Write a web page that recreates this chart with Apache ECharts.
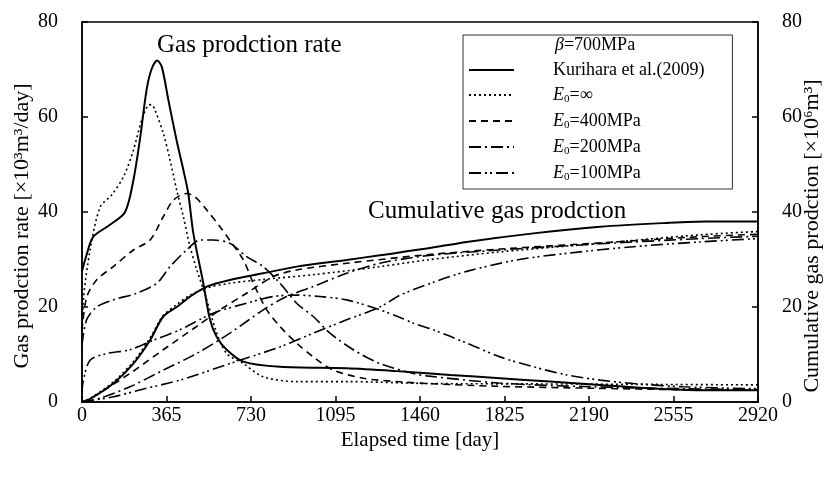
<!DOCTYPE html>
<html>
<head>
<meta charset="utf-8">
<script src="https://cdn.jsdelivr.net/npm/echarts@6/dist/echarts.min.js"></script>
<style>
  html, body { margin: 0; padding: 0; background: #fff; }
  #main { width: 831px; height: 480px; }
</style>
</head>
<body>
<div id="main"></div>
<script>
// [day, value] pairs
// gas production rate (x10^3 m3/day)
let kuriharaRate = [[0,27.5],[20,31],[49,34.8],[121,37.3],[186,40],[222,46.7],[250,55.2],[279,65.7],[300,70],[325,71.9],[345,70.5],[373,63.6],[409,55],[438,48.8],[459,43.9],[481,35.5],[524,25],[553,17.3],[582,13.7],[625,11],[697,8.5],[855,7.4],[1143,7.1],[1360,6.5],[1590,5.7],[1806,5.0],[2022,4.3],[2238,3.6],[2454,2.9],[2670,2.5],[2920,2.5]];
let infRate = [[0,12],[6,21.5],[35,32],[78,41],[128,43.6],[179,47.4],[222,53],[258,59.4],[287,62.5],[300,62.6],[315,61.5],[351,56.6],[380,51],[409,44.6],[438,39],[465,33],[495,28],[539,21.5],[582,14.5],[625,10.2],[697,8.1],[783,5.3],[927,4.3],[1143,4.3],[1489,3.9],[2000,3.8],[2500,3.7],[2920,3.6]];
let e400Rate = [[0,15],[20,22],[63,25.7],[135,28.5],[222,32],[294,34.1],[351,39],[395,42.5],[452,43.9],[488,43.2],[539,40.4],[596,36.9],[639,34],[697,29.9],[740,25],[798,19.4],[855,15.9],[927,12.4],[999,9.5],[1086,6.7],[1215,5],[1360,4.3],[1489,3.9],[1800,3.3],[2200,2.9],[2600,2.6],[2920,2.5]];
let e200Rate = [[0,12],[20,17.3],[63,20],[135,21.5],[236,22.9],[323,25],[380,28.5],[452,32],[510,34.1],[567,34.1],[639,33.4],[711,30.6],[783,28.5],[855,25],[927,20.8],[999,18],[1071,14.5],[1172,11],[1287,8.1],[1431,6],[1489,5.5],[1800,4],[2200,3.2],[2600,2.8],[2920,2.6]];
let e100Rate = [[0,2],[6,4.6],[35,8.8],[107,10.2],[207,11],[308,13],[423,15.2],[567,18.7],[711,20.8],[826,22.2],[927,22.5],[1028,22.2],[1143,21.5],[1287,19.4],[1374,17.8],[1431,16.6],[1518,15.2],[1662,12.4],[1806,9.5],[1950,7.4],[2094,5.7],[2238,4.6],[2382,3.9],[2598,3.2],[2920,2.8]];

// cumulative gas production (x10^6 m3)
let kuriharaCum = [[0,0],[30,0.5],[135,3.9],[222,8.1],[294,13],[351,18],[409,20],[467,22.2],[539,24.3],[639,25.7],[783,27.1],[927,28.5],[1143,29.9],[1287,30.9],[1489,32.3],[1662,33.7],[1950,35.5],[2238,36.9],[2526,37.7],[2700,38],[2920,38]];
let infCum = [[0,0],[30,0.6],[135,4.2],[222,8.5],[294,13.5],[351,18.2],[409,20.5],[467,22.5],[539,24],[639,25],[783,25.8],[999,26.8],[1287,28.5],[1489,29.9],[1806,31.6],[2238,33.4],[2670,35.2],[2920,35.9]];
let e400Cum = [[0,0],[49,1.1],[207,6],[351,11],[495,15.9],[596,19.4],[711,22.9],[826,26.4],[927,27.8],[1143,29.2],[1489,31],[1806,32.2],[2238,33.5],[2670,34.8],[2920,35.3]];
let e200Cum = [[0,0],[78,0.8],[207,3.2],[351,6.7],[495,10.2],[639,14.5],[783,19.4],[884,22.2],[999,24.3],[1143,27.1],[1287,29.2],[1489,30.8],[1806,32],[2238,33.3],[2670,34.4],[2920,34.9]];
let e100Cum = [[0,0],[135,1.1],[279,2.9],[423,4.6],[639,8.1],[855,11.6],[999,14.5],[1143,17.3],[1287,20],[1374,22.5],[1518,25.2],[1662,27.5],[1878,29.9],[2094,31.3],[2382,32.7],[2670,33.7],[2920,34.4]];

let names = ["Kurihara et al.(2009)", "E0=∞", "E0=400MPa", "E0=200MPa", "E0=100MPa"];
let xTicks = [0, 365, 730, 1095, 1460, 1825, 2190, 2555, 2920];

let font = "Liberation Serif";
let styles = [
  { width: 2, type: "solid" },
  { width: 1.6, type: [2, 3] },
  { width: 1.6, type: [7, 5] },
  { width: 1.6, type: [12, 4, 2, 4] },
  { width: 1.6, type: [12, 4, 2, 3, 2, 4] },
];
let rateData = [kuriharaRate, infRate, e400Rate, e200Rate, e100Rate];
let cumData = [kuriharaCum, infCum, e400Cum, e200Cum, e100Cum];

let series = [];
names.forEach((name, i) => {
  series.push({
    name: name, type: "line", yAxisIndex: 0, data: rateData[i],
    symbol: "none", smooth: 0.3, silent: true,
    lineStyle: { color: "#000", width: styles[i].width, type: styles[i].type },
    itemStyle: { color: "#000" },
  });
  series.push({
    name: name, type: "line", yAxisIndex: 1, data: cumData[i],
    symbol: "none", smooth: 0.3, silent: true,
    lineStyle: { color: "#000", width: styles[i].width, type: styles[i].type },
    itemStyle: { color: "#000" },
  });
});

let myChart = echarts.init(document.getElementById("main"));

let options = {
  animation: false,
  textStyle: { fontFamily: font, color: "#000" },
  grid: { left: 82, right: 73, top: 22, bottom: 78, outerBoundsMode: "none",
    show: true, borderColor: "#000", borderWidth: 1.5 },
  xAxis: {
    type: "value", min: 0, max: 2920, interval: 365,
    name: "Elapsed time [day]", nameLocation: "middle", nameGap: 28, nameMoveOverlap: false,
    nameTextStyle: { fontSize: 21, fontFamily: font, color: "#000" },
    axisLine: { lineStyle: { color: "#000", width: 1.5 } },
    axisTick: { inside: true, length: 6, lineStyle: { color: "#000", width: 1.5 } },
    axisLabel: { fontSize: 20, fontFamily: font, color: "#000", margin: 4,
      formatter: (v) => (xTicks.includes(v) ? String(v) : "") },
    splitLine: { show: false },
  },
  yAxis: [
    {
      type: "value", min: 0, max: 80, interval: 20, position: "left",
      name: "Gas prodction rate [×10³m³/day]", nameLocation: "middle", nameGap: 49, nameRotate: 90,
      nameMoveOverlap: false,
      nameTextStyle: { fontSize: 22, fontFamily: font, color: "#000", padding: [0, 28, 0, 0] },
      axisLine: { show: true, lineStyle: { color: "#000", width: 1.5 } },
      axisTick: { show: true, inside: true, length: 6, lineStyle: { color: "#000", width: 1.5 } },
      axisLabel: { fontSize: 20, fontFamily: font, color: "#000", margin: 24 },
      splitLine: { show: false },
    },
    {
      type: "value", min: 0, max: 80, interval: 20, position: "right",
      name: "Cumulative gas prodction [×10⁶m³]", nameLocation: "middle", nameGap: 43, nameRotate: 90,
      nameMoveOverlap: false,
      nameTextStyle: { fontSize: 22, fontFamily: font, color: "#000", padding: [0, 48, 0, 0] },
      axisLine: { show: true, lineStyle: { color: "#000", width: 1.5 } },
      axisTick: { show: true, inside: true, length: 6, lineStyle: { color: "#000", width: 1.5 } },
      axisLabel: { fontSize: 20, fontFamily: font, color: "#000", margin: 24 },
      splitLine: { show: false },
    },
  ],
  legend: {
    data: names, orient: "vertical", left: 463, top: 35,
    selectedMode: false, itemWidth: 45, itemHeight: 14, itemGap: 7,
    padding: [26, 28, 6, 5], borderColor: "#333", borderWidth: 1,
    itemStyle: { opacity: 0 },
    textStyle: {
      fontFamily: font, fontSize: 18, color: "#000", padding: [0, 0, 0, 34],
      rich: {
        e: { fontFamily: font, fontSize: 18, fontStyle: "italic", color: "#000" },
        s: { fontFamily: font, fontSize: 11, color: "#000", padding: [9, 0, 0, 0] },
        t: { fontFamily: font, fontSize: 18, color: "#000" },
      },
    },
    formatter: (name) => (name.startsWith("E0") ? "{e|E}{s|0}{t|" + name.slice(2) + "}" : name),
  },
  graphic: [
    { type: "text", left: 555, top: 36, style: {
      rich: { b: { fontFamily: font, fontSize: 18, fontStyle: "italic" }, t: { fontFamily: font, fontSize: 18 } },
      text: "{b|β}{t|=700MPa}", fill: "#000" } },
    { type: "text", left: 157, top: 33, style: { text: "Gas prodction rate", fontFamily: font, fontSize: 25, fill: "#000" } },
    { type: "text", left: 368, top: 199, style: { text: "Cumulative gas prodction", fontFamily: font, fontSize: 25, fill: "#000" } },
  ],
  series: series,
};
myChart.setOption(options);
</script>
</body>
</html>
